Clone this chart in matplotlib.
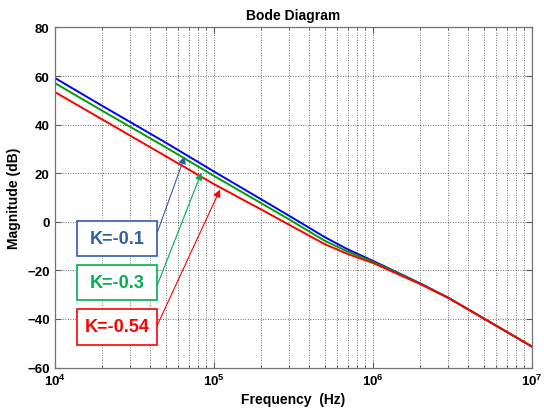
import matplotlib
matplotlib.use("Agg")
import matplotlib.pyplot as plt
from matplotlib.patches import Rectangle
from matplotlib.ticker import LogLocator, MultipleLocator, NullFormatter

plt.rcParams['font.family'] = ['Liberation Sans', 'DejaVu Sans']
plt.rcParams['font.weight'] = 'bold'
plt.rcParams['mathtext.fontset'] = 'custom'
plt.rcParams['mathtext.rm'] = 'Liberation Sans:bold'
plt.rcParams['mathtext.it'] = 'Liberation Sans:bold'
plt.rcParams['mathtext.bf'] = 'Liberation Sans:bold'

# magnitude (dB) at these frequencies (Hz)
freq = [1e4, 2e4, 5e4, 1e5, 2e5, 3e5, 5e5, 7e5, 1e6, 2e6, 3e6, 5e6, 1e7]
mag_k01 = [59.3, 47.7, 32.6, 20.8, 9.2, 2.4, -6.3, -11.4, -16.0, -25.4, -31.3, -39.8, -51.3]
mag_k03 = [57.2, 45.7, 30.7, 19.0, 7.6, 0.9, -7.8, -12.3, -16.4, -25.5, -31.3, -39.8, -51.3]
mag_k054 = [53.5, 42.1, 27.0, 15.6, 5.0, -1.3, -9.2, -13.3, -16.9, -25.7, -31.4, -39.8, -51.3]

labels = ["K=-0.1", "K=-0.3", "K=-0.54"]
line_colors = ["#0000ff", "#00a000", "#ff0000"]
box_colors = ["#2f5ea8", "#00b050", "#ff0000"]
# where each arrow points on its curve (Hz, dB)
arrow_tips = [(6.6e4, 27.0), (8.4e4, 20.3), (1.1e5, 13.3)]

fig = plt.figure(figsize=(5.44, 4.14), dpi=100)
ax = fig.add_axes([0.1002, 0.1099, 0.877, 0.8213])

for mag, c in zip([mag_k01, mag_k03, mag_k054], line_colors):
    ax.plot(freq, mag, color=c, lw=1.4)

ax.set_xscale('log')
ax.set_xlim(1e4, 1e7)
ax.set_ylim(-60, 80)
ax.yaxis.set_major_locator(MultipleLocator(20))
ax.xaxis.set_major_locator(LogLocator(base=10, numticks=10))
ax.xaxis.set_minor_locator(LogLocator(base=10, subs=range(2, 10), numticks=50))
ax.xaxis.set_minor_formatter(NullFormatter())

grid_style = dict(color='0.25', linestyle=(0, (1, 2)), linewidth=0.6)
ax.grid(True, which='major', axis='both', **grid_style)
ax.grid(True, which='minor', axis='x', **grid_style)

ax.tick_params(which='both', direction='in', top=True, right=True, labelsize=9.5, color='0.35')
ax.tick_params(which='major', length=4)
ax.tick_params(which='minor', length=2.5)
for s in ax.spines.values():
    s.set_color('0.45')
    s.set_linewidth(0.9)

ax.set_title("Bode Diagram", fontsize=10, fontweight='bold', pad=6)
ax.set_xlabel("Frequency  (Hz)", fontsize=10, fontweight='bold', labelpad=3)
ax.set_ylabel("Magnitude (dB)", fontsize=10, fontweight='bold', labelpad=4)

# label boxes in axes fraction: (x0, y0, width, height)
boxes = [(0.0465, 0.3288, 0.169, 0.103), (0.0465, 0.1994, 0.169, 0.103), (0.0465, 0.067, 0.169, 0.105)]
tails_y = [0.3976, 0.2426, 0.125]
for (x0, y0, w, h), lab, bc, tip, ty in zip(boxes, labels, box_colors, arrow_tips, tails_y):
    ax.add_patch(Rectangle((x0, y0), w, h, transform=ax.transAxes, facecolor='white',
                           edgecolor=bc, lw=1.2, zorder=5))
    ax.text(x0 + w / 2, y0 + h / 2, lab, transform=ax.transAxes, ha='center', va='center',
            color=bc, fontsize=13, fontweight='bold', zorder=6)
    ax.annotate("", xy=tip, xycoords='data', xytext=(x0 + w, ty), textcoords='axes fraction',
                arrowprops=dict(arrowstyle='-|>', color=bc, lw=0.8, mutation_scale=11,
                                shrinkA=0, shrinkB=0), zorder=6)

fig.savefig("out.png", dpi=100)
